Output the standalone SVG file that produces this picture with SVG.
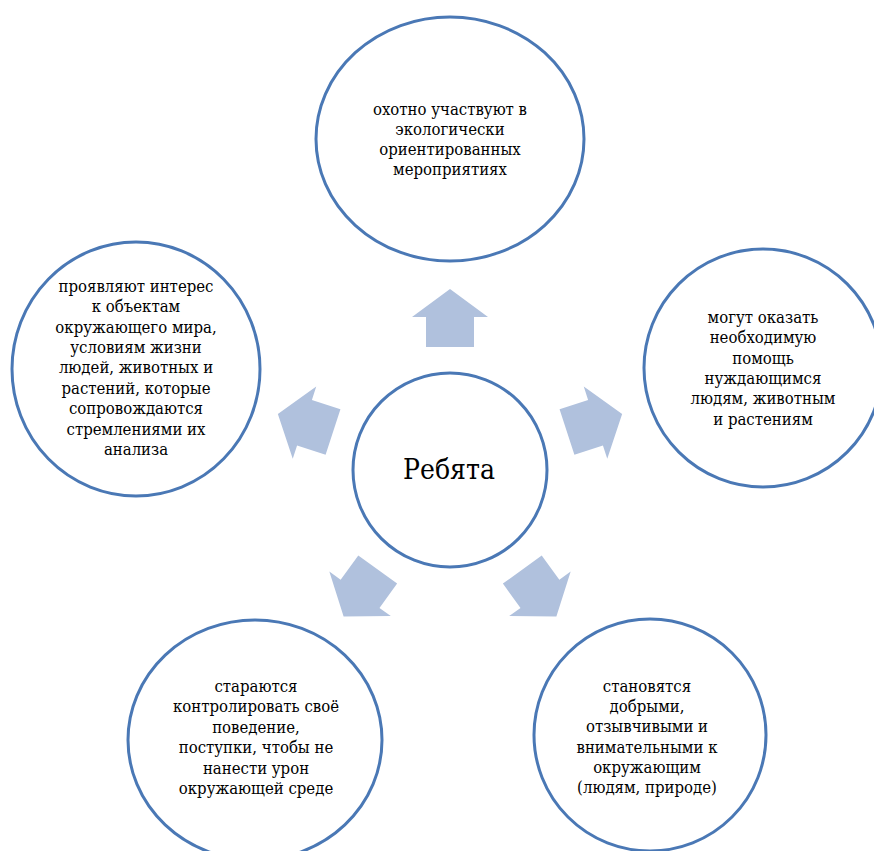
<svg xmlns="http://www.w3.org/2000/svg" width="874" height="851" viewBox="0 0 874 851">
<style>
.c{fill:#ffffff;stroke:#4a78b5;stroke-width:3}
.a{fill:#b0c1dd;stroke:none}
.t{font-family:"DejaVu Serif Condensed","DejaVu Serif",serif;font-stretch:condensed;font-size:16.6px;fill:#000;text-anchor:middle}
.m{font-family:"DejaVu Serif Condensed","DejaVu Serif",serif;font-stretch:condensed;font-size:28px;fill:#000;text-anchor:middle}
</style>
<defs>
<polygon id="arr" points="0,-181 38,-153 24,-153 24,-123 -24,-123 -24,-153 -38,-153"/>
</defs>
<rect width="874" height="851" fill="#ffffff"/>
<g id="connectors">
<use href="#arr" class="a" transform="translate(450,470)"/>
<use href="#arr" class="a" transform="translate(450,470) rotate(72)"/>
<use href="#arr" class="a" transform="translate(450,470) rotate(144)"/>
<use href="#arr" class="a" transform="translate(450,470) rotate(216)"/>
<use href="#arr" class="a" transform="translate(450,470) rotate(288)"/>
</g>
<g id="center">
<circle class="c" cx="450" cy="470" r="97"/>
<text class="m" x="449" y="479">Ребята</text>
</g>
<g id="top">
<ellipse class="c" cx="450" cy="139" rx="134" ry="122"/>
<text class="t" x="450" y="115">охотно участвуют в</text>
<text class="t" x="450" y="135">экологически</text>
<text class="t" x="450" y="155">ориентированных</text>
<text class="t" x="450" y="175">мероприятиях</text>
</g>
<g id="right">
<circle class="c" cx="763" cy="368" r="119"/>
<text class="t" x="763" y="323">могут оказать</text>
<text class="t" x="763" y="343.3">необходимую</text>
<text class="t" x="763" y="363.6">помощь</text>
<text class="t" x="763" y="384">нуждающимся</text>
<text class="t" x="763" y="404.3">людям, животным</text>
<text class="t" x="763" y="424.6">и растениям</text>
</g>
<g id="left">
<ellipse class="c" cx="136" cy="369" rx="124" ry="127"/>
<text class="t" x="136" y="291.5">проявляют интерес</text>
<text class="t" x="136" y="312">к объектам</text>
<text class="t" x="136" y="332.5">окружающего мира,</text>
<text class="t" x="136" y="353">условиям жизни</text>
<text class="t" x="136" y="373">людей, животных и</text>
<text class="t" x="136" y="393.5">растений, которые</text>
<text class="t" x="136" y="414">сопровождаются</text>
<text class="t" x="136" y="434.5">стремлениями их</text>
<text class="t" x="136" y="455">анализа</text>
</g>
<g id="bottom-left">
<ellipse class="c" cx="255" cy="740" rx="127" ry="120"/>
<text class="t" x="256" y="691.5">стараются</text>
<text class="t" x="256" y="712">контролировать своё</text>
<text class="t" x="256" y="732.5">поведение,</text>
<text class="t" x="256" y="753">поступки, чтобы не</text>
<text class="t" x="256" y="773.5">нанести урон</text>
<text class="t" x="256" y="794">окружающей среде</text>
</g>
<g id="bottom-right">
<circle class="c" cx="650" cy="735" r="116"/>
<text class="t" x="647" y="691.5">становятся</text>
<text class="t" x="647" y="712">добрыми,</text>
<text class="t" x="647" y="732">отзывчивыми и</text>
<text class="t" x="647" y="752.5">внимательными к</text>
<text class="t" x="647" y="773">окружающим</text>
<text class="t" x="647" y="793">(людям, природе)</text>
</g>
</svg>
